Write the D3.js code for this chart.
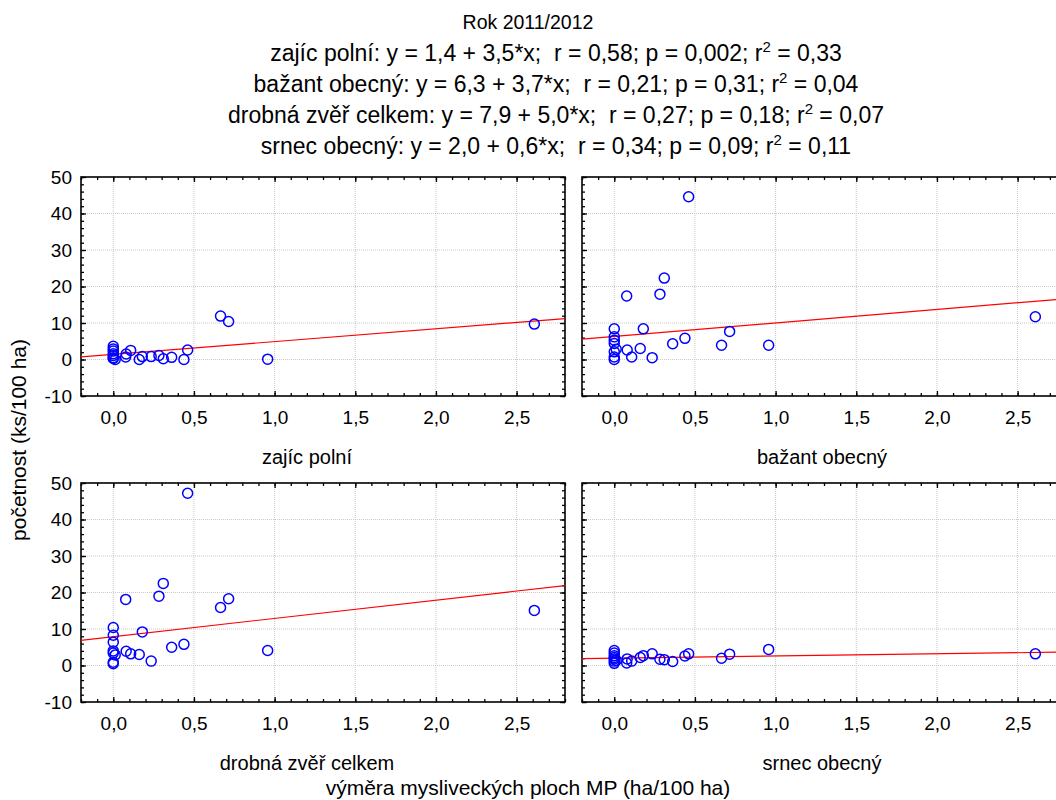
<!DOCTYPE html>
<html>
<head>
<meta charset="utf-8">
<script src="https://cdn.jsdelivr.net/npm/d3@7"></script>
<style>
  body { margin: 0; background: #fff; }
  svg { display: block; font-family: Arial, "Liberation Sans", sans-serif; }
</style>
</head>
<body>
<svg width="1056" height="800"></svg>
<script>
// x values (výměra MP) shared by all four panels, one per hunting ground
const siteX = [0, 0, 0, 0, 0, 0, 0, 0.012, 0.077, 0.08, 0.108, 0.161, 0.18, 0.235,
               0.283, 0.31, 0.362, 0.438, 0.461, 0.665, 0.715, 0.957, 2.61];

const zajic   = [3.6, 2.9, 2.3, 1.6, 1.1, 0.5, 0.3, 0.0, 0.7, 1.5, 2.5, 0.0, 0.8, 0.8,
                 1.1, 0.2, 0.6, 0.0, 2.6, 11.9, 10.4, 0.1, 9.7];
const bazant  = [8.4, 6.2, 5.3, 4.4, 2.1, 0.7, 0.0, 2.8, 17.4, 2.6, 0.7, 3.0, 8.4, 0.5,
                 17.9, 22.3, 4.3, 5.8, 44.6, 3.9, 7.7, 3.9, 11.7];
const drobna  = [10.4, 8.3, 6.4, 4.0, 3.4, 0.9, 0.5, 2.9, 18.1, 3.9, 3.2, 3.0, 9.2, 1.2,
                 19.0, 22.5, 5.0, 5.8, 47.2, 15.9, 18.3, 4.1, 15.1];
const srnec   = [4.1, 3.4, 2.7, 1.8, 1.2, 0.6, 2.2, 1.4, 0.7, 1.8, 1.2, 2.2, 2.7, 3.2,
                 1.7, 1.6, 1.1, 2.6, 3.2, 2.0, 3.1, 4.4, 3.2];

const panelNames = ["zajíc polní", "bažant obecný", "drobná zvěř celkem", "srnec obecný"];
const intercepts = [1.4, 6.3, 7.9, 2.0];
const slopes     = [3.5, 3.7, 5.0, 0.6];
const rValues    = ["0,58", "0,21", "0,27", "0,34"];
const pValues    = ["0,002", "0,31", "0,18", "0,09"];
const r2Values   = ["0,33", "0,04", "0,07", "0,11"];
const eqText     = ["1,4 + 3,5*x", "6,3 + 3,7*x", "7,9 + 5,0*x", "2,0 + 0,6*x"];

const xTicks = [0, 0.5, 1, 1.5, 2, 2.5];
const yTicks = [-10, 0, 10, 20, 30, 40, 50];

const series = [zajic, bazant, drobna, srnec];

const svg = d3.select("svg");
const font = "Arial, 'Liberation Sans', sans-serif";

// Title block
svg.append("text")
   .attr("x", 528).attr("y", 29)
   .attr("text-anchor", "middle")
   .attr("font-size", "19.5px")
   .text("Rok 2011/2012");

panelNames.forEach((name, i) => {
  const t = svg.append("text")
     .attr("x", 556).attr("y", 61 + i * 31)
     .attr("text-anchor", "middle")
     .attr("font-size", "23px")
     .style("white-space", "pre");
  t.append("tspan").text(`${name}: y = ${eqText[i]};  r = ${rValues[i]}; p = ${pValues[i]}; r`);
  t.append("tspan").attr("dy", -9).attr("font-size", "15px").text("2");
  t.append("tspan").attr("dy", 9).text(` = ${r2Values[i]}`);
});

// Panel layout
const panelW = 484, panelH = 219;
const lefts = [81, 582];
const tops = [177, 483];
const labelCx = [307, 822];

const fmtX = d => d3.format(".1f")(d).replace(".", ",");

series.forEach((vals, i) => {
  const col = i % 2, row = Math.floor(i / 2);
  const x0 = lefts[col], y0 = tops[row];
  const g = svg.append("g").attr("transform", `translate(${x0},${y0})`);

  const x = d3.scaleLinear().domain([-0.2, 2.8]).range([0, panelW]);
  const y = d3.scaleLinear().domain([-10, 50]).range([panelH, 0]);

  // dotted grid
  g.append("g").selectAll("line").data(xTicks).join("line")
     .attr("x1", d => x(d)).attr("x2", d => x(d))
     .attr("y1", 0).attr("y2", panelH)
     .attr("stroke", "#c8c8c8").attr("stroke-width", 1)
     .attr("stroke-dasharray", "1,1");
  g.append("g").selectAll("line").data(yTicks.slice(1, -1)).join("line")
     .attr("x1", 0).attr("x2", panelW)
     .attr("y1", d => y(d)).attr("y2", d => y(d))
     .attr("stroke", "#c8c8c8").attr("stroke-width", 1)
     .attr("stroke-dasharray", "1,1");

  // minor ticks (inside, all four sides)
  const minorX = d3.range(-0.2, 2.81, 0.1).map(v => +v.toFixed(1));
  const minorY = d3.range(-10, 51, 2);
  const tickStyle = sel => {
    sel.select(".domain").remove();
    sel.selectAll("line").attr("stroke", "#000").attr("stroke-width", 1.3);
  };
  g.append("g").attr("transform", `translate(0,${panelH})`)
     .call(d3.axisBottom(x).tickValues(minorX).tickSize(-3).tickFormat(""))
     .call(tickStyle);
  g.append("g")
     .call(d3.axisTop(x).tickValues(minorX).tickSize(-3).tickFormat(""))
     .call(tickStyle);
  g.append("g")
     .call(d3.axisLeft(y).tickValues(minorY).tickSize(-3).tickFormat(""))
     .call(tickStyle);
  g.append("g").attr("transform", `translate(${panelW},0)`)
     .call(d3.axisRight(y).tickValues(minorY).tickSize(-3).tickFormat(""))
     .call(tickStyle);

  // major ticks + labels
  const xAxis = g.append("g").attr("transform", `translate(0,${panelH})`)
     .call(d3.axisBottom(x).tickValues(xTicks).tickSize(-5).tickPadding(15).tickFormat(fmtX))
     .call(tickStyle);
  xAxis.selectAll("text").attr("font-size", "19px").attr("font-family", font).attr("fill", "#000");

  g.append("g")
     .call(d3.axisTop(x).tickValues(xTicks).tickSize(-5).tickFormat(""))
     .call(tickStyle);

  const yAxis = g.append("g")
     .call(d3.axisLeft(y).tickValues(yTicks).tickSize(-5).tickPadding(9)
       .tickFormat(d => col === 0 ? String(d) : ""))
     .call(tickStyle);
  yAxis.selectAll("text").attr("font-size", "19px").attr("font-family", font).attr("fill", "#000");

  g.append("g").attr("transform", `translate(${panelW},0)`)
     .call(d3.axisRight(y).tickValues(yTicks).tickSize(-5).tickFormat(""))
     .call(tickStyle);

  // frame
  g.append("rect")
     .attr("x", 0).attr("y", 0).attr("width", panelW).attr("height", panelH)
     .attr("fill", "none").attr("stroke", "#000").attr("stroke-width", 1.6);

  // regression line
  const xs = x.domain();
  g.append("line")
     .attr("x1", x(xs[0])).attr("y1", y(intercepts[i] + slopes[i] * xs[0]))
     .attr("x2", x(xs[1])).attr("y2", y(intercepts[i] + slopes[i] * xs[1]))
     .attr("stroke", "#ff0000").attr("stroke-width", 1.2);

  // points
  g.append("g").selectAll("circle").data(vals).join("circle")
     .attr("cx", (d, j) => x(siteX[j]))
     .attr("cy", d => y(d))
     .attr("r", 5)
     .attr("fill", "none")
     .attr("stroke", "#0000ff")
     .attr("stroke-width", 1.5);

  // panel label
  svg.append("text")
     .attr("x", labelCx[col]).attr("y", y0 + panelH + 68)
     .attr("text-anchor", "middle")
     .attr("font-size", "20px")
     .text(panelNames[i]);
});

// axis titles
svg.append("text")
   .attr("transform", "translate(26,440) rotate(-90)")
   .attr("text-anchor", "middle")
   .attr("font-size", "21px")
   .text("početnost (ks/100 ha)");

svg.append("text")
   .attr("x", 528).attr("y", 795)
   .attr("text-anchor", "middle")
   .attr("font-size", "21px")
   .text("výměra mysliveckých ploch MP (ha/100 ha)");
</script>
</body>
</html>
